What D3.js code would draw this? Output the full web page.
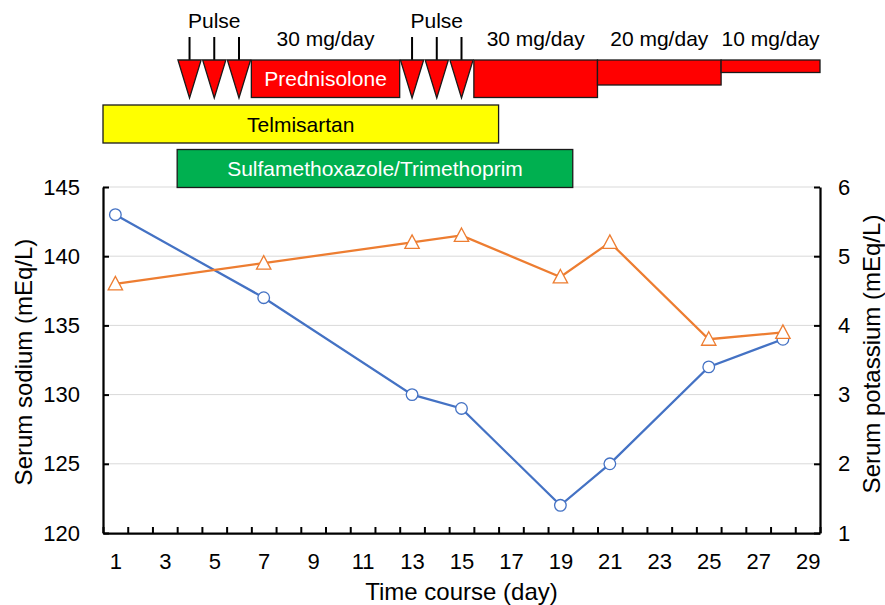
<!DOCTYPE html>
<html>
<head>
<meta charset="utf-8">
<script src="https://cdn.jsdelivr.net/npm/d3@7"></script>
<style>
  html, body { margin: 0; padding: 0; background: #fff; }
  svg { display: block; font-family: Arial, "Liberation Sans", Helvetica, sans-serif; }
</style>
</head>
<body>
<svg id="chart" width="885" height="605"></svg>
<script>
// ---- Data ----
const days = [1, 7, 13, 15, 19, 21, 25, 28];
const sodium = [143, 137, 130, 129, 122, 125, 132, 134];
const potassium = [4.6, 4.9, 5.2, 5.3, 4.7, 5.2, 3.8, 3.9];

const xTickLabels = [1, 3, 5, 7, 9, 11, 13, 15, 17, 19, 21, 23, 25, 27, 29];
const naTicks = [120, 125, 130, 135, 140, 145];
const kTicks = [1, 2, 3, 4, 5, 6];

const pulseDays = [4, 5, 6, 13, 14, 15];
const pulseLabelDays = [5, 14];

const predStart = [6.5, 15.5, 20.5, 25.5];
const predEnd = [12.5, 20.5, 25.5, 29.5];
const predDose = [30, 30, 20, 10];

const drugNames = ["Telmisartan", "Sulfamethoxazole/Trimethoprim"];
const drugStart = [0.5, 3.5];
const drugEnd = [16.5, 19.5];
const drugColors = ["#FFFF00", "#00B050"];
const drugTextColors = ["#000000", "#FFFFFF"];

// ---- Layout ----
const L = 103, R = 820, T = 187, B = 533;
const svg = d3.select("#chart");

const x = d3.scaleLinear().domain([0.5, 29.5]).range([L, R]);
const yNa = d3.scaleLinear().domain([120, 145]).range([B, T]);
const yK = d3.scaleLinear().domain([1, 6]).range([B, T]);
const doseH = d3.scaleLinear().domain([0, 30]).range([0, 37.5]);

const edge = "#1a1a1a";

// ---- Gridlines ----
svg.append("g").selectAll("line").data(naTicks.filter(v => v > 120)).join("line")
  .attr("x1", L).attr("x2", R)
  .attr("y1", d => yNa(d)).attr("y2", d => yNa(d))
  .attr("stroke", "#d9d9d9").attr("stroke-width", 1);

// ---- Top annotation: prednisolone ----
const topY = 60;
const pulseHalf = 0.47;
const triBottom = 98;

// stems
svg.append("g").selectAll("line").data(pulseDays).join("line")
  .attr("x1", d => x(d)).attr("x2", d => x(d))
  .attr("y1", 37).attr("y2", topY)
  .attr("stroke", "#000").attr("stroke-width", 2);

svg.append("g").selectAll("path").data(pulseDays).join("path")
  .attr("d", d => `M${x(d - pulseHalf)},${topY} L${x(d + pulseHalf)},${topY} L${x(d)},${triBottom} Z`)
  .attr("fill", "#FF0000").attr("stroke", edge).attr("stroke-width", 1.3)
  .attr("stroke-linejoin", "miter");

svg.append("g").selectAll("text").data(pulseLabelDays).join("text")
  .attr("x", d => x(d)).attr("y", 28)
  .attr("text-anchor", "middle").attr("font-size", 21).attr("fill", "#000")
  .text("Pulse");

const predIdx = d3.range(predStart.length);
svg.append("g").selectAll("rect").data(predIdx).join("rect")
  .attr("x", i => x(predStart[i])).attr("y", topY)
  .attr("width", i => x(predEnd[i]) - x(predStart[i]))
  .attr("height", i => doseH(predDose[i]))
  .attr("fill", "#FF0000").attr("stroke", edge).attr("stroke-width", 1.3);

svg.append("g").selectAll("text").data(predIdx).join("text")
  .attr("x", i => (x(predStart[i]) + x(predEnd[i])) / 2).attr("y", 46)
  .attr("text-anchor", "middle").attr("font-size", 21).attr("fill", "#000")
  .text(i => predDose[i] + " mg/day");

svg.append("text")
  .attr("x", (x(predStart[0]) + x(predEnd[0])) / 2).attr("y", 86)
  .attr("text-anchor", "middle").attr("font-size", 21).attr("fill", "#fff")
  .text("Prednisolone");

// ---- Drug bars ----
const drugY = [105, 149.5];
const drugH = 38;
const drugIdx = d3.range(drugNames.length);
svg.append("g").selectAll("rect").data(drugIdx).join("rect")
  .attr("x", i => x(drugStart[i])).attr("y", i => drugY[i])
  .attr("width", i => x(drugEnd[i]) - x(drugStart[i])).attr("height", drugH)
  .attr("fill", i => drugColors[i]).attr("stroke", edge).attr("stroke-width", 1.3);
svg.append("g").selectAll("text").data(drugIdx).join("text")
  .attr("x", i => (x(drugStart[i]) + x(drugEnd[i])) / 2)
  .attr("y", i => drugY[i] + drugH / 2 + 7.5)
  .attr("text-anchor", "middle").attr("font-size", 21)
  .attr("fill", i => drugTextColors[i])
  .text(i => drugNames[i]);

// ---- Axes ----
function styleAxis(g) {
  g.select(".domain").attr("stroke", "#000").attr("stroke-width", 2.25);
  g.selectAll(".tick line").attr("stroke", "#000").attr("stroke-width", 2);
  g.selectAll("text").attr("font-size", 22).attr("fill", "#000")
    .attr("font-family", "Arial, 'Liberation Sans', Helvetica, sans-serif");
}

// x tick marks (between categories)
svg.append("g").attr("transform", `translate(0,${B})`)
  .call(d3.axisBottom(x).tickValues(d3.range(0.5, 30, 1)).tickSizeInner(-6).tickSizeOuter(0).tickFormat(""))
  .call(styleAxis);
// x labels
svg.append("g").attr("transform", `translate(0,${B})`)
  .call(d3.axisBottom(x).tickValues(xTickLabels).tickSize(0).tickPadding(20).tickFormat(d3.format("d")))
  .call(g => g.select(".domain").remove())
  .call(styleAxis);

svg.append("g").attr("transform", `translate(${L},0)`)
  .call(d3.axisLeft(yNa).tickValues(naTicks).tickSizeInner(-6).tickSizeOuter(0).tickPadding(23).tickFormat(d3.format("d")))
  .call(styleAxis);

svg.append("g").attr("transform", `translate(${R},0)`)
  .call(d3.axisRight(yK).tickValues(kTicks).tickSizeInner(-6).tickSizeOuter(0).tickPadding(18).tickFormat(d3.format("d")))
  .call(styleAxis);

// axis titles
svg.append("text").attr("x", (L + R) / 2).attr("y", 600)
  .attr("text-anchor", "middle").attr("font-size", 24).attr("fill", "#000")
  .text("Time course (day)");
svg.append("text").attr("transform", "translate(32,362) rotate(-90)")
  .attr("text-anchor", "middle").attr("font-size", 24).attr("fill", "#000")
  .text("Serum sodium (mEq/L)");
svg.append("text").attr("transform", "translate(880,354) rotate(-90)")
  .attr("text-anchor", "middle").attr("font-size", 24).attr("fill", "#000")
  .text("Serum potassium (mEq/L)");

// ---- Series ----
const naColor = "#4472C4", kColor = "#ED7D31";
const idx = d3.range(days.length);

svg.append("path").datum(idx)
  .attr("d", d3.line().x(i => x(days[i])).y(i => yNa(sodium[i])))
  .attr("fill", "none").attr("stroke", naColor).attr("stroke-width", 2.25);
svg.append("g").selectAll("circle").data(idx).join("circle")
  .attr("cx", i => x(days[i])).attr("cy", i => yNa(sodium[i])).attr("r", 5.8)
  .attr("fill", "#fff").attr("stroke", naColor).attr("stroke-width", 1.3);

svg.append("path").datum(idx)
  .attr("d", d3.line().x(i => x(days[i])).y(i => yK(potassium[i])))
  .attr("fill", "none").attr("stroke", kColor).attr("stroke-width", 2.25);
svg.append("g").selectAll("path").data(idx).join("path")
  .attr("transform", i => `translate(${x(days[i])},${yK(potassium[i])})`)
  .attr("d", "M0,-7.5 L7.2,6 L-7.2,6 Z")
  .attr("fill", "#fff").attr("stroke", kColor).attr("stroke-width", 1.3);
</script>
</body>
</html>
